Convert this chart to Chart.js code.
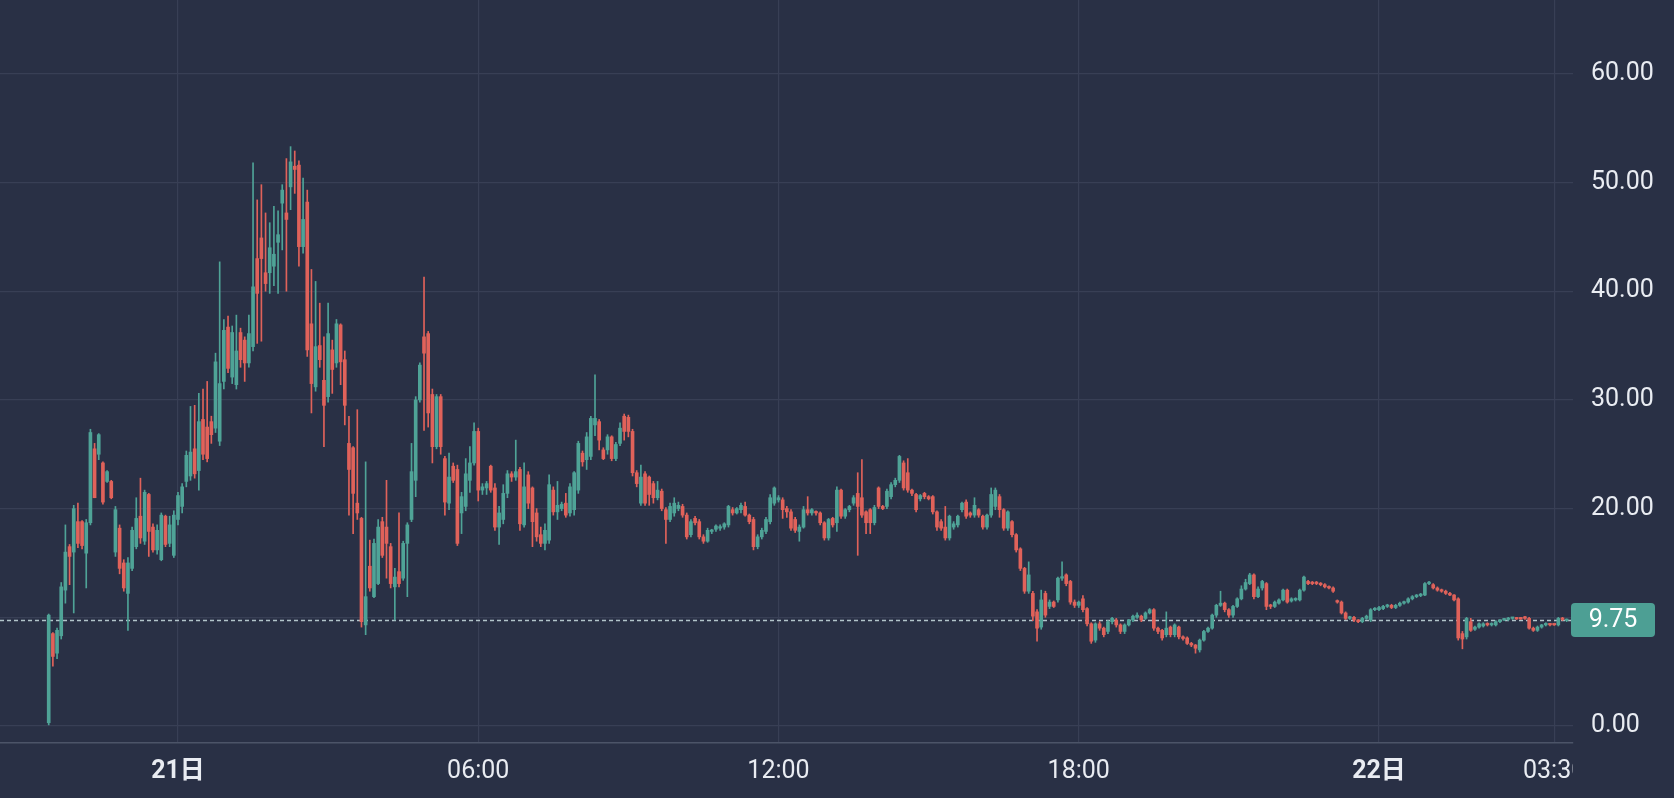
<!DOCTYPE html>
<html>
<head>
<meta charset="utf-8">
<script src="https://cdn.jsdelivr.net/npm/chart.js@4.4.1/dist/chart.umd.min.js"></script>
<style>
  html, body { margin: 0; padding: 0; background: #293045; }
  #wrap { width: 1674px; height: 798px; }
</style>
</head>
<body>
<div id="wrap"><canvas id="chart" width="1674" height="798"></canvas></div>
<script>
// ── data: 5-minute candles, time in minutes from 21日 00:00 ──────────
const firstCandle = -155;   // 20日 21:25
const candleStep = 5;

const opens = [
  0.3, 8.5, 6.7, 8.3, 12.5, 16.5, 16.0, 18.8, 18.8, 15.9,
  18.7, 25.5, 25.0, 24.2, 22.5, 22.5, 16.0, 18.2, 15.0, 12.2,
  14.5, 16.5, 19.3, 17.0, 21.3, 18.3, 16.2, 15.3, 19.3, 16.8,
  15.7, 19.0, 20.2, 22.5, 23.0, 25.5, 23.5, 28.2, 27.5, 28.0,
  27.4, 26.2, 31.7, 36.7, 32.1, 31.4, 36.2, 35.5, 33.4, 34.9,
  43.0, 44.9, 41.7, 41.7, 42.3, 44.5, 48.1, 47.2, 49.6, 51.5,
  51.6, 44.1, 48.2, 37.0, 31.2, 35.0, 31.8, 30.3, 34.6, 33.4,
  36.9, 33.7, 26.0, 25.6, 20.5, 19.1, 9.3, 14.7, 11.9, 13.1,
  18.8, 18.3, 16.5, 12.8, 14.2, 13.6, 16.8, 19.0, 22.6, 30.0,
  35.8, 36.1, 30.5, 25.7, 30.3, 24.6, 20.5, 23.9, 23.6, 19.6,
  20.2, 22.6, 24.2, 27.1, 21.7, 21.9, 23.9, 21.9, 18.3, 19.0,
  21.4, 23.2, 22.9, 23.6, 18.5, 23.1, 21.9, 19.6, 17.6, 16.8,
  17.1, 21.7, 19.7, 20.0, 20.5, 19.6, 19.9, 21.7, 25.1, 24.5,
  24.8, 27.7, 28.0, 25.4, 25.4, 26.6, 24.6, 26.0, 28.5, 28.4,
  27.1, 23.3, 20.5, 23.2, 22.9, 22.3, 21.0, 21.6, 19.9, 19.0,
  19.6, 20.0, 20.2, 19.4, 17.6, 19.1, 18.8, 17.4, 17.0, 17.9,
  18.1, 18.2, 18.3, 18.5, 19.9, 19.6, 19.9, 20.2, 19.4, 19.0,
  16.5, 17.4, 17.9, 18.8, 20.5, 20.8, 20.8, 20.0, 19.7, 19.0,
  17.9, 18.3, 19.9, 19.6, 19.7, 19.6, 18.7, 17.3, 19.1, 18.7,
  21.7, 19.3, 19.9, 20.5, 21.4, 21.0, 19.7, 19.9, 18.7, 21.9,
  20.2, 20.2, 21.1, 22.2, 22.6, 24.2, 23.3, 21.7, 21.3, 20.9,
  21.4, 21.1, 21.1, 19.7, 18.8, 18.3, 17.3, 18.3, 18.5, 19.9,
  20.6, 19.6, 19.4, 19.9, 19.3, 18.3, 19.4, 20.2, 21.1, 19.9,
  18.2, 18.8, 17.6, 16.3, 14.5, 12.4, 12.2, 10.5, 9.1, 12.2,
  11.0, 11.4, 11.6, 13.6, 13.9, 13.3, 11.4, 11.1, 11.7, 10.8,
  9.4, 7.9, 9.4, 9.0, 8.7, 9.6, 9.75, 9.3, 8.7, 9.3,
  9.75, 10.0, 10.1, 9.9, 10.4, 10.7, 9.0, 8.8, 8.4, 9.1,
  8.4, 9.1, 8.2, 8.1, 7.6, 7.45, 7.0, 7.9, 8.7, 9.0,
  10.2, 11.1, 11.3, 10.7, 10.2, 11.0, 11.7, 12.6, 13.1, 13.9,
  11.9, 12.7, 13.1, 11.1, 11.0, 11.3, 11.6, 12.5, 11.5, 11.6,
  11.6, 12.5, 13.3, 13.2, 13.2, 13.1, 13.0, 12.8, 12.7, 11.5,
  11.4, 10.4, 9.9, 10.0, 9.75, 9.6, 9.9, 9.75, 10.7, 10.7,
  10.8, 11.0, 11.1, 10.9, 11.1, 11.3, 11.4, 11.7, 11.9, 12.0,
  12.05, 13.1, 13.0, 12.7, 12.5, 12.4, 12.2, 12.05, 11.7, 8.5,
  8.2, 9.6, 8.9, 9.1, 9.2, 9.4, 9.3, 9.3, 9.6, 9.75,
  9.8, 9.9, 9.95, 9.95, 10.05, 9.9, 9.0, 8.8, 9.1, 9.3,
  9.4, 9.35, 9.3, 9.9, 9.7
];

const highs = [
  10.3, 8.6, 9.0, 13.2, 18.5, 16.7, 20.3, 20.5, 18.9, 19.0,
  27.3, 26.0, 26.9, 24.3, 23.5, 22.6, 20.2, 18.5, 15.3, 15.5,
  18.3, 21.0, 22.8, 21.7, 21.4, 18.6, 18.5, 19.6, 19.4, 19.3,
  19.8, 21.5, 22.3, 25.3, 29.4, 29.5, 30.6, 31.0, 31.7, 28.5,
  34.3, 42.7, 37.4, 37.7, 36.8, 37.8, 36.6, 35.8, 37.8, 51.8,
  48.4, 49.8, 47.2, 46.3, 47.8, 47.4, 49.8, 52.2, 53.3, 52.9,
  52.0, 50.4, 49.3, 42.0, 40.9, 38.9, 35.8, 38.9, 35.5, 37.4,
  37.0, 34.5, 28.5, 25.7, 29.1, 19.2, 24.3, 17.1, 17.2, 19.0,
  19.2, 22.6, 16.8, 14.5, 19.6, 17.0, 18.7, 26.0, 30.3, 33.4,
  41.3, 36.3, 31.0, 30.5, 30.5, 24.8, 25.1, 24.2, 24.0, 21.5,
  24.6, 25.7, 27.9, 27.4, 22.3, 22.5, 24.0, 22.3, 20.2, 22.2,
  23.5, 23.4, 26.3, 23.8, 24.2, 23.4, 22.0, 20.0, 18.3, 18.6,
  23.1, 22.0, 22.5, 20.6, 21.4, 22.3, 23.4, 26.2, 25.3, 27.0,
  28.5, 32.3, 28.2, 25.6, 26.8, 26.7, 26.1, 27.9, 28.7, 28.6,
  27.3, 23.5, 24.0, 23.4, 23.0, 22.5, 22.5, 21.8, 20.1, 20.5,
  21.0, 20.6, 20.4, 19.6, 19.0, 19.3, 19.0, 17.6, 18.2, 18.1,
  18.5, 18.5, 18.7, 20.3, 20.1, 20.1, 20.5, 20.6, 19.5, 19.2,
  17.6, 18.2, 19.2, 21.3, 22.0, 21.2, 21.0, 20.2, 19.9, 19.2,
  18.5, 20.2, 21.1, 20.0, 19.8, 19.7, 18.8, 19.1, 19.2, 22.0,
  21.8, 20.0, 20.3, 21.2, 23.3, 24.5, 19.8, 20.0, 20.3, 22.0,
  20.3, 21.8, 22.4, 22.8, 24.9, 24.4, 24.6, 21.8, 21.4, 21.3,
  21.5, 21.2, 21.2, 19.8, 19.0, 20.2, 19.4, 18.8, 19.4, 20.6,
  20.8, 19.7, 21.0, 20.0, 19.4, 19.5, 21.9, 21.9, 21.3, 20.0,
  19.8, 18.9, 17.7, 16.4, 14.6, 15.1, 12.4, 10.7, 12.5, 12.4,
  11.6, 11.5, 13.7, 15.1, 14.0, 13.4, 11.6, 11.5, 12.0, 10.9,
  9.5, 9.5, 9.6, 9.1, 9.7, 10.0, 9.9, 9.4, 9.4, 9.8,
  10.2, 10.4, 10.2, 10.5, 10.8, 10.8, 9.1, 8.9, 10.5, 9.2,
  9.4, 9.2, 8.3, 8.2, 7.7, 7.5, 8.0, 8.8, 9.1, 10.3,
  11.2, 12.4, 11.4, 10.8, 11.1, 11.8, 12.9, 13.5, 14.05, 14.0,
  12.8, 13.4, 13.2, 11.2, 11.5, 11.7, 12.6, 12.6, 11.8, 11.8,
  12.6, 13.8, 13.4, 13.3, 13.3, 13.2, 13.1, 12.9, 12.8, 11.6,
  11.5, 10.5, 10.1, 10.1, 9.8, 10.0, 10.2, 10.8, 10.9, 11.0,
  11.1, 11.2, 11.2, 11.2, 11.4, 11.5, 11.8, 12.0, 12.1, 12.2,
  13.2, 13.3, 13.1, 12.8, 12.6, 12.5, 12.3, 12.1, 11.8, 8.7,
  10.0, 9.9, 9.2, 9.5, 9.5, 9.5, 9.5, 9.7, 9.8, 9.9,
  10.0, 10.0, 10.0, 10.0, 10.1, 10.0, 9.1, 9.2, 9.35, 9.5,
  9.45, 9.4, 10.0, 10.0, 9.85
];

const lows = [
  0.1, 5.5, 6.2, 8.0, 11.3, 13.0, 10.4, 16.4, 16.3, 12.7,
  18.5, 21.0, 24.5, 20.4, 22.4, 20.9, 15.6, 14.0, 12.4, 8.8,
  14.3, 16.3, 16.8, 16.7, 15.6, 16.0, 15.8, 15.2, 16.5, 16.5,
  15.5, 18.5, 19.6, 22.0, 22.6, 22.8, 21.7, 24.5, 24.3, 26.0,
  27.0, 25.8, 31.0, 32.5, 31.5, 31.0, 33.0, 31.7, 33.0, 34.5,
  35.2, 35.4, 40.0, 39.8, 40.5, 39.8, 43.8, 40.0, 47.5, 49.0,
  42.3, 43.5, 34.0, 28.8, 30.8, 33.0, 25.7, 29.8, 30.6, 33.0,
  31.4, 27.7, 19.4, 17.7, 19.0, 9.1, 8.4, 12.4, 11.8, 13.0,
  15.5, 13.6, 12.7, 9.75, 12.8, 13.4, 11.9, 18.8, 21.1, 29.8,
  27.2, 27.5, 24.2, 25.5, 25.0, 19.4, 19.9, 22.4, 16.6, 17.7,
  19.8, 21.5, 24.0, 20.7, 21.3, 21.3, 21.5, 18.0, 16.7, 18.6,
  21.0, 22.5, 22.6, 18.0, 18.3, 20.0, 16.5, 17.0, 16.5, 16.2,
  16.8, 19.4, 19.0, 19.8, 19.2, 19.3, 19.4, 21.4, 23.9, 23.6,
  24.5, 26.7, 25.4, 24.5, 25.0, 24.4, 24.4, 25.8, 26.3, 26.6,
  23.0, 22.0, 20.3, 20.3, 20.3, 20.5, 20.8, 19.8, 16.8, 18.8,
  19.3, 19.8, 19.2, 17.2, 17.4, 18.5, 17.2, 16.8, 16.9, 17.7,
  17.9, 18.0, 18.1, 18.3, 19.4, 19.5, 19.6, 19.3, 18.6, 16.2,
  16.3, 17.2, 17.7, 18.6, 20.3, 20.6, 19.1, 19.2, 18.0, 17.8,
  17.0, 18.2, 19.4, 19.4, 19.4, 18.5, 17.1, 17.1, 18.3, 17.9,
  19.1, 19.1, 19.7, 20.3, 15.7, 19.2, 17.7, 17.7, 18.5, 20.0,
  19.9, 20.0, 20.9, 22.0, 22.4, 21.7, 21.5, 21.2, 19.7, 20.7,
  20.9, 20.8, 19.5, 18.0, 18.0, 17.1, 17.1, 18.1, 18.3, 19.7,
  19.1, 19.2, 19.2, 19.2, 18.1, 18.1, 19.2, 19.9, 19.2, 18.0,
  18.0, 17.4, 16.0, 14.3, 12.2, 12.2, 9.7, 7.8, 8.9, 10.0,
  10.8, 10.9, 11.4, 13.4, 12.9, 11.2, 10.9, 10.9, 10.5, 9.2,
  7.6, 7.7, 8.8, 8.2, 8.5, 9.4, 9.1, 8.5, 8.5, 9.2,
  9.6, 9.9, 9.6, 9.8, 10.3, 8.8, 8.5, 7.9, 8.2, 8.2,
  8.2, 8.0, 7.9, 7.5, 7.3, 6.7, 6.8, 7.8, 8.6, 8.9,
  10.0, 11.0, 10.5, 10.0, 10.0, 10.9, 11.6, 12.5, 13.0, 11.7,
  11.8, 12.5, 10.7, 10.8, 10.9, 11.2, 11.5, 11.3, 11.4, 11.5,
  11.5, 12.4, 13.0, 13.0, 13.0, 12.9, 12.7, 12.6, 12.3, 11.3,
  10.3, 9.8, 9.8, 9.6, 9.5, 9.5, 9.8, 9.6, 10.6, 10.6,
  10.7, 10.9, 10.8, 10.8, 11.0, 11.2, 11.3, 11.6, 11.8, 11.9,
  12.0, 13.0, 12.6, 12.4, 12.3, 12.1, 12.0, 11.5, 7.9, 7.1,
  8.0, 8.7, 8.8, 9.0, 9.1, 9.2, 9.2, 9.2, 9.5, 9.7,
  9.7, 9.8, 9.8, 9.8, 9.8, 8.9, 8.7, 8.7, 9.0, 9.2,
  9.2, 9.25, 9.2, 9.7, 9.6
];

const closes = [
  10.2, 6.4, 8.8, 12.8, 16.0, 15.6, 20.0, 16.8, 16.6, 18.7,
  27.0, 21.0, 26.8, 20.6, 23.4, 21.0, 19.9, 14.5, 12.7, 15.0,
  18.0, 19.1, 17.3, 21.5, 17.9, 16.2, 18.0, 19.4, 16.7, 18.5,
  19.4, 21.2, 22.0, 24.9, 25.2, 23.2, 28.0, 25.0, 24.6, 26.8,
  33.5, 31.5, 36.4, 32.9, 36.2, 34.5, 33.7, 33.4, 36.1, 40.4,
  39.8, 43.0, 40.7, 44.0, 43.4, 45.2, 49.3, 46.6, 51.9, 51.2,
  44.1, 46.6, 34.6, 31.5, 34.9, 33.7, 29.5, 36.1, 32.8, 37.0,
  33.5, 29.5, 23.6, 21.4, 19.6, 9.6, 11.9, 12.7, 16.8, 18.3,
  15.7, 16.8, 13.1, 13.7, 13.1, 16.8, 18.5, 23.4, 30.0, 33.2,
  34.3, 28.8, 25.7, 30.3, 25.7, 20.6, 22.9, 22.6, 16.8, 21.1,
  23.2, 24.2, 27.1, 21.7, 22.0, 22.3, 21.7, 18.3, 19.6, 21.4,
  23.2, 22.9, 23.4, 18.6, 22.0, 20.5, 18.8, 17.4, 16.8, 18.0,
  22.2, 19.7, 20.3, 20.4, 19.4, 22.0, 23.3, 26.0, 24.3, 26.6,
  28.3, 28.3, 26.3, 24.6, 26.6, 24.6, 25.9, 27.4, 27.1, 27.1,
  23.3, 22.3, 22.9, 20.5, 21.3, 21.0, 21.7, 20.0, 19.0, 20.2,
  20.5, 20.3, 19.4, 17.4, 18.8, 18.7, 17.4, 17.0, 18.0, 18.0,
  18.4, 18.3, 18.6, 20.2, 19.6, 20.0, 20.3, 19.4, 18.8, 16.5,
  17.4, 18.0, 19.0, 21.0, 21.9, 21.0, 19.9, 19.7, 18.2, 18.0,
  18.3, 19.9, 19.6, 19.9, 19.6, 18.7, 17.3, 19.0, 18.5, 21.7,
  19.3, 19.9, 20.2, 21.0, 20.2, 19.4, 18.7, 18.7, 20.1, 20.2,
  20.0, 21.6, 22.2, 22.6, 24.8, 21.9, 21.7, 21.4, 19.9, 21.2,
  21.1, 20.9, 19.7, 18.3, 18.2, 17.3, 19.3, 18.6, 19.3, 20.5,
  19.3, 19.4, 20.3, 19.4, 18.3, 19.4, 21.3, 21.7, 19.9, 18.2,
  19.7, 17.6, 16.2, 14.5, 12.4, 13.9, 10.1, 9.0, 11.6, 10.2,
  11.4, 11.0, 13.6, 13.7, 13.1, 11.4, 11.1, 11.4, 10.7, 9.4,
  7.8, 9.4, 9.0, 8.4, 9.6, 9.9, 9.3, 8.7, 9.3, 9.75,
  10.1, 10.2, 9.75, 10.4, 10.7, 9.0, 8.7, 8.1, 9.0, 8.4,
  9.3, 8.2, 8.05, 7.6, 7.45, 7.15, 7.9, 8.7, 9.0, 10.2,
  11.1, 11.3, 10.7, 10.2, 11.0, 11.7, 12.6, 13.2, 13.9, 11.9,
  12.6, 13.3, 11.0, 11.0, 11.4, 11.6, 12.5, 11.4, 11.7, 11.7,
  12.5, 13.7, 13.1, 13.1, 13.1, 13.0, 12.8, 12.7, 12.4, 11.4,
  10.4, 9.9, 10.05, 9.75, 9.6, 9.9, 10.1, 10.7, 10.8, 10.9,
  11.0, 11.1, 10.9, 11.1, 11.3, 11.4, 11.7, 11.9, 12.05, 12.1,
  13.1, 13.2, 12.7, 12.5, 12.4, 12.2, 12.05, 11.6, 8.1, 8.0,
  9.9, 8.8, 9.1, 9.4, 9.4, 9.3, 9.4, 9.6, 9.75, 9.8,
  9.9, 9.95, 9.85, 9.85, 9.9, 9.0, 8.8, 9.1, 9.3, 9.4,
  9.3, 9.3, 9.9, 9.8, 9.75
];

const yTicks = [0, 10, 20, 30, 40, 50, 60];
const xTicks = [0, 360, 720, 1080, 1440, 1650];
const xLabels = ['21日', '06:00', '12:00', '18:00', '22日', '03:30'];
const xBold = [true, false, false, false, true, false];
const lastPrice = 9.75;

// ── colours ──────────────────────────────────
const BG = '#293045';
const GRID = '#383f55';
const AXIS = '#4c5468';
const UP = '#4fa397';
const DOWN = '#e0625a';
const TEXT = '#e9ecf2';
const FONT = 'Roboto, "Noto Sans CJK SC", sans-serif';

const times = opens.map((_, i) => firstCandle + i * candleStep);
const isUp = i => closes[i] >= opens[i];

const bodyData = times.map((t, i) => ({ x: t, y: [opens[i], closes[i]] }));
const wickData = times.map((t, i) => ({ x: t, y: [lows[i], highs[i]] }));

// ── decorations: background, last price line + tag, time labels ──
const decor = {
  id: 'decor',
  beforeDraw(chart) {
    const c = chart.ctx;
    c.save();
    c.fillStyle = BG;
    c.fillRect(0, 0, chart.width, chart.height);
    c.restore();
  },
  beforeDatasetsDraw(chart) {
    const c = chart.ctx, area = chart.chartArea;
    const y = Math.round(chart.scales.y.getPixelForValue(lastPrice)) + 0.5;
    c.save();
    c.strokeStyle = '#b2c4ca';
    c.lineWidth = 1.6;
    c.setLineDash([4, 3]);
    c.beginPath();
    c.moveTo(area.left, y);
    c.lineTo(area.right, y);
    c.stroke();
    c.restore();
  },
  afterDraw(chart) {
    const c = chart.ctx, area = chart.chartArea;
    const y = chart.scales.y.getPixelForValue(lastPrice);
    c.save();
    c.fillStyle = '#4d9f94';
    c.beginPath();
    c.roundRect(area.right - 2, y - 17, 84, 34, 4);
    c.fill();
    c.fillStyle = '#ffffff';
    c.font = '25px ' + FONT;
    c.textAlign = 'center';
    c.textBaseline = 'middle';
    c.fillText(lastPrice.toFixed(2), area.right + 40, y + 1);
    c.restore();

    // time labels, clipped at the price axis like the original
    c.save();
    c.beginPath();
    c.rect(0, area.bottom, area.right, chart.height - area.bottom);
    c.clip();
    c.fillStyle = TEXT;
    c.textAlign = 'center';
    c.textBaseline = 'middle';
    xTicks.forEach((v, i) => {
      c.font = (xBold[i] ? 'bold ' : '') + '25px ' + FONT;
      c.fillText(xLabels[i], chart.scales.x.getPixelForValue(v), area.bottom + 29);
    });
    c.restore();
  }
};

new Chart(document.getElementById('chart'), {
  type: 'bar',
  data: {
    datasets: [
      {
        data: wickData,
        stack: 'c',
        barThickness: 1,
        backgroundColor: ctx => isUp(ctx.dataIndex) ? UP : DOWN,
        order: 2
      },
      {
        data: bodyData,
        stack: 'c',
        barThickness: 3,
        minBarLength: 1.5,
        backgroundColor: ctx => isUp(ctx.dataIndex) ? UP : DOWN,
        order: 1
      }
    ]
  },
  options: {
    responsive: false,
    animation: false,
    devicePixelRatio: 1,
    layout: { padding: { top: 0, left: 0, right: 0, bottom: 55 } },
    plugins: { legend: { display: false }, tooltip: { enabled: false } },
    scales: {
      x: {
        type: 'linear',
        offset: false,
        min: -213.4,
        max: 1672.6,
        afterBuildTicks: s => { s.ticks = xTicks.map(v => ({ value: v })); },
        afterFit: s => { s.height = 0; },
        ticks: { display: false },
        grid: { color: GRID, drawTicks: false, lineWidth: 1.2, offset: false },
        border: { color: AXIS, width: 1.5 }
      },
      y: {
        position: 'right',
        stacked: false,
        min: -1.564,
        max: 66.79,
        afterBuildTicks: s => { s.ticks = yTicks.map(v => ({ value: v })); },
        afterFit: s => { s.width = 101; s.paddingTop = 0; s.paddingBottom = 0; },
        ticks: {
          padding: 18,
          color: TEXT,
          font: { family: FONT, size: 25 },
          callback: v => v.toFixed(2)
        },
        grid: { color: GRID, drawTicks: false, lineWidth: 1.2 },
        border: { display: false }
      }
    }
  },
  plugins: [decor]
});
</script>
</body>
</html>
